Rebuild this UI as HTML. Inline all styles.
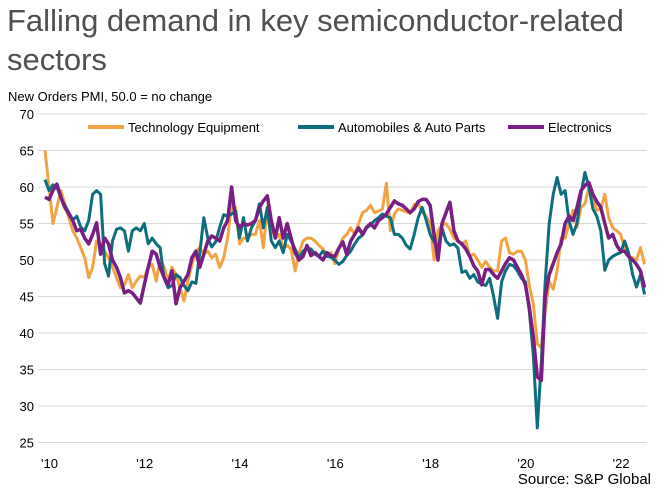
<!DOCTYPE html>
<html><head><meta charset="utf-8">
<style>
body{margin:0;background:#fff;width:665px;height:499px;overflow:hidden;font-family:"Liberation Sans",sans-serif;}
.title{position:absolute;left:7px;top:1px;font-size:31px;line-height:39px;color:#505050;font-weight:300;}
.sub{position:absolute;left:8px;top:89px;font-size:13px;color:#000;}
.src{position:absolute;right:14px;top:471px;font-size:15px;color:#000;}
</style></head><body>
<div class="title">Falling demand in key semiconductor-related<br>sectors</div>
<div class="sub">New Orders PMI, 50.0 = no change</div>
<svg id="chart" width="665" height="499" style="position:absolute;left:0;top:0"></svg>
<div class="src">Source: S&amp;P Global</div>
<script>
const yTicks=[25,30,35,40,45,50,55,60,65,70];
const xTickLabels=["'10","'12","'14","'16","'18","'20","'22"];
const seriesNames=["Technology Equipment","Automobiles & Auto Parts","Electronics"];
const tech=[65,60,55,57.2,59.5,57.7,55.8,54,53,51.7,50.3,47.6,
49,52.6,52.2,51.2,50.3,49,47.6,46.2,46.6,48,46.2,47.1,
47.8,47.6,49,49.4,47.1,50,49,47.1,49,48,46.2,44.4,
47.1,49.4,51.2,51.7,50.8,51.2,50.3,50.8,49,50.3,53,
57.7,57.2,52.2,53,53,53.5,53.5,55.4,51.7,57.2,54.4,53,
53.5,51.5,52,51.5,48.5,51,52.6,53,53,52.6,52,51.5,
50.8,51,49.5,51.5,53,53.5,54.4,53.5,55,56.5,56.8,57.5,
56.5,56.7,57,60.5,54,56.3,
57,56.8,56.6,56.4,57.6,57.8,56.6,56,55,50,54,54.8,
55,54.2,53,52.6,52.2,52.6,50.5,50.8,50,49,49.8,49,
48.5,48.5,52.6,53,51,50.8,51.2,
51.2,50,46.5,44,38.5,38,43,47,46,48.5,53,53,55,56.8,54.5,57.2,57.7,60,58.6,56.8,57,59,55.8,54.4,54,53.5,51.7,50.5,50.3,50,51.7,49.4];
const autos=[61,59.5,60.3,60,58.5,57.5,56.5,55.5,56,54.5,54,55.4,
59,59.5,59,49.5,47.8,52.6,54.2,54.4,54,51.2,54,54.4,
54,55,52.2,53,52.2,51.7,47.5,46.2,46.5,48,47.6,46.5,
45.8,47,46.8,51,55.8,53,51.8,52.5,54.5,56.2,56,
56.3,56.7,53,55.8,52.6,54.4,55.4,57.7,54.4,57.2,52.6,51.7,
52.6,51,53.5,52.6,51.5,50.3,51.2,51.7,51.5,50.8,50.5,51.2,
50.5,50.4,50,49.4,49.8,50.6,51.2,52.2,53,53.4,54.4,54.8,
55.4,55.8,56.3,56,55.8,53.5,
53.5,53,52,51.5,53.5,55.8,57.2,55.5,53.5,52.5,51.5,54.4,
52.6,52,52.2,51.6,48.3,48.5,47.5,48,47,46.7,46.5,47.5,
45,42,47,48.5,49.4,49.2,48.5,
47.5,47,43,37,27,36,47,55,59,61.3,59,59.5,55.4,53.5,55,59,62,60,57,56,54,48.6,50,50.5,50.8,51,52.6,51,48,46.3,48,45.3];
const electronics=[58.6,58.3,59.5,60.4,58.6,57.2,56.3,55.4,54,54.2,53,52.2,
53.5,55.1,50.8,53,52.2,50,49,47.6,45.5,45.8,45.5,44.8,
44.1,46.6,49,51.2,50.8,49,47.6,46.6,48.5,44,46.2,47.1,
48,50.3,51.2,49,50.8,52.6,53.3,53,52.6,54.4,55.4,
60,55.4,54.5,55,54.8,55,55.4,57.2,58.1,58.8,55.4,53,
55.8,53,55,53,51,50,50.5,52,50.6,51,50.5,50,
51,50.6,50.5,51.6,52.5,50.8,52.6,53.5,54.4,53.5,54.5,55,
54.4,55.4,55.8,56.3,57.2,58.1,
57.7,57.5,57,56.5,57,58,58.3,58.3,57.5,53.5,50,55,
56.5,57.9,54,52.6,52.2,51.5,50.5,49.2,48.5,46.6,48.7,48.7,
48,47.5,48.5,49.5,50.3,50,49,
48,46.6,43.5,39.5,34,33.5,45,48,49.5,51,52.2,55,56,55.4,57.2,59.5,60.2,60.6,59,58,57.2,55,53,53.5,52,51.2,51.2,50.5,50,49.4,48.5,46.2];

const NS="http://www.w3.org/2000/svg";
const svg=document.getElementById('chart');
function xScale(m){return 45+m*3.97;}
function yScale(v){return 114+(70-v)*7.3;}
function mk(tag,attrs,parent){const e=document.createElementNS(NS,tag);for(const k in attrs)e.setAttribute(k,attrs[k]);(parent||svg).appendChild(e);return e;}

yTicks.forEach(t=>{
  const g=mk('line',{x1:38,x2:647,y1:yScale(t),y2:yScale(t),stroke:'#d9d9d9','stroke-width':1});
  
  
  const l=mk('text',{x:34,y:yScale(t)+5,'text-anchor':'end','font-size':13,fill:'#000','font-family':'Liberation Sans, sans-serif'});
  l.textContent=t;
  
  
});
xTickLabels.forEach((s,i)=>{
  const l=mk('text',{x:xScale(i*24)-4,y:468,'font-size':13,fill:'#000','font-family':'Liberation Sans, sans-serif'});
  l.textContent=s;
  
  
});
const colors=['#F2A444','#0F6E7D','#781F83'];
const widths=[3,3,3.5];
[tech,autos,electronics].forEach((arr,si)=>{
  const d=arr.map((v,i)=>(i?'L':'M')+xScale(i).toFixed(1)+' '+yScale(v).toFixed(1)).join(' ');
  const p=mk('path',{d:d,fill:'none',stroke:colors[si],'stroke-width':widths[si],'stroke-linejoin':'round'});
  
  
});
const legX=[88,298,508];
seriesNames.forEach((n,i)=>{
  const s=mk('line',{x1:legX[i],x2:legX[i]+36,y1:127,y2:127,stroke:colors[i],'stroke-width':4});
  
  
  const t=mk('text',{x:legX[i]+40,y:132,'font-size':13,fill:'#000','font-family':'Liberation Sans, sans-serif'});
  t.textContent=n;
  
  
});
</script>
</body></html>
